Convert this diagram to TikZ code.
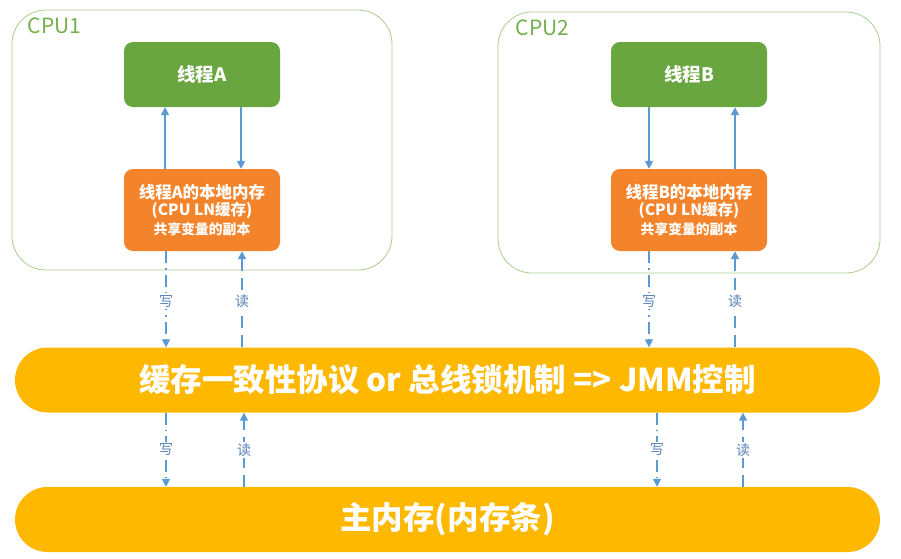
\documentclass[tikz,border=0pt]{standalone}
\usepackage{fontspec}
\usepackage{xcolor}
\usepackage{tikz}
\usetikzlibrary{arrows.meta, positioning}
\setmainfont{Noto Sans CJK SC}
\definecolor{ThreadGreen}{HTML}{6AA640}
\definecolor{CpuGreen}{HTML}{75B04E}
\definecolor{CpuLine}{HTML}{A9CF8E}
\definecolor{CacheOrange}{HTML}{F4842B}
\definecolor{BusYellow}{HTML}{FFB800}
\definecolor{FlowBlue}{HTML}{5B9BD5}
\definecolor{LabelBlue}{HTML}{5A82B8}

\begin{document}
\begin{tikzpicture}[x=1pt,y=-1pt,
  cpu/.style={draw=CpuLine,line width=0.8pt,rounded corners=34pt},
  cpulabel/.style={text=CpuGreen,font=\fontsize{21}{22}\selectfont,inner sep=0pt},
  thread/.style={fill=ThreadGreen,rounded corners=9pt,minimum width=156pt,minimum height=65pt,
                 text=white,font=\bfseries\fontsize{18.5}{20}\selectfont},
  cache/.style={fill=CacheOrange,rounded corners=9pt,minimum width=156pt,minimum height=82pt,
                text=white,align=center,font=\bfseries},
  bar/.style={fill=BusYellow,rounded corners=32.5pt,minimum width=865pt,minimum height=65pt,
              text=white,font=\bfseries\fontsize{31.5}{32}\selectfont},
  flow/.style={draw=FlowBlue,line width=1.6pt,-{Triangle[width=8pt,length=8pt]}},
  wr/.style={flow,dash pattern=on 12pt off 5pt on 1.5pt off 5pt},
  rd/.style={flow,dash pattern=on 12pt off 7pt},
  rwlabel/.style={fill=white,text=LabelBlue,inner sep=1.5pt,font=\fontsize{14}{14}\selectfont}]
\useasboundingbox[fill=white] (0,0) rectangle (901,558);

% CPU frames
\node[cpu,minimum width=380pt,minimum height=260pt] (cpuA) at (202,140) {};
\node[cpu,minimum width=382pt,minimum height=261pt] (cpuB) at (689,142.5) {};
\node[cpulabel,anchor=north west] at ([xshift=16pt,yshift=-8pt]cpuA.north west) {CPU1};
\node[cpulabel,anchor=north west] at ([xshift=18pt,yshift=-8pt]cpuB.north west) {CPU2};

% threads and their local memory
\node[thread] (thA) at (202,74.5) {线程A};
\node[cache] (memA) at (202,210) {{\fontsize{16.5}{21}\selectfont 线程A的本地内存}\\[1.5pt]
  {\fontsize{15.5}{20}\selectfont (CPU LN缓存)}\\[2.5pt]{\fontsize{13.8}{18}\selectfont 共享变量的副本}};
\node[thread] (thB) at (689,74.5) {线程B};
\node[cache] (memB) at (689,210) {{\fontsize{16.5}{21}\selectfont 线程B的本地内存}\\[1.5pt]
  {\fontsize{15.5}{20}\selectfont (CPU LN缓存)}\\[2.5pt]{\fontsize{13.8}{18}\selectfont 共享变量的副本}};

% bus and main memory
\node[bar] (bus) at (447.5,380) {缓存一致性协议 or 总线锁机制 => JMM控制};
\node[bar] (ram) at (447.5,519.5) {主内存(内存条)};

% inside the CPUs
\draw[flow] ([xshift=-37pt]memA.north) -- ([xshift=-37pt]thA.south);
\draw[flow] ([xshift=39pt]thA.south) -- ([xshift=39pt]memA.north);
\draw[flow] ([xshift=-40pt]thB.south) -- ([xshift=-40pt]memB.north);
\draw[flow] ([xshift=46pt]memB.north) -- ([xshift=46pt]thB.south);

% local memory <-> bus
\draw[wr] ([xshift=-36pt]memA.south) -- ([xshift=-36pt]memA.south |- bus.north) node[rwlabel,pos=0.52] {写};
\draw[rd] ([xshift=40pt]memA.south |- bus.north) -- ([xshift=40pt]memA.south) node[rwlabel,pos=0.48] {读};
\draw[wr] ([xshift=-40pt]memB.south) -- ([xshift=-40pt]memB.south |- bus.north) node[rwlabel,pos=0.52] {写};
\draw[rd] ([xshift=46pt]memB.south |- bus.north) -- ([xshift=46pt]memB.south) node[rwlabel,pos=0.48] {读};

% bus <-> main memory
\draw[wr] ([xshift=-36pt]memA.south |- bus.south) -- ([xshift=-36pt]memA.south |- ram.north) node[rwlabel,midway] {写};
\draw[rd] ([xshift=42pt]memA.south |- ram.north) -- ([xshift=42pt]memA.south |- bus.south) node[rwlabel,midway] {读};
\draw[wr] ([xshift=-32pt]memB.south |- bus.south) -- ([xshift=-32pt]memB.south |- ram.north) node[rwlabel,midway] {写};
\draw[rd] ([xshift=54pt]memB.south |- ram.north) -- ([xshift=54pt]memB.south |- bus.south) node[rwlabel,midway] {读};
\end{tikzpicture}
\end{document}
